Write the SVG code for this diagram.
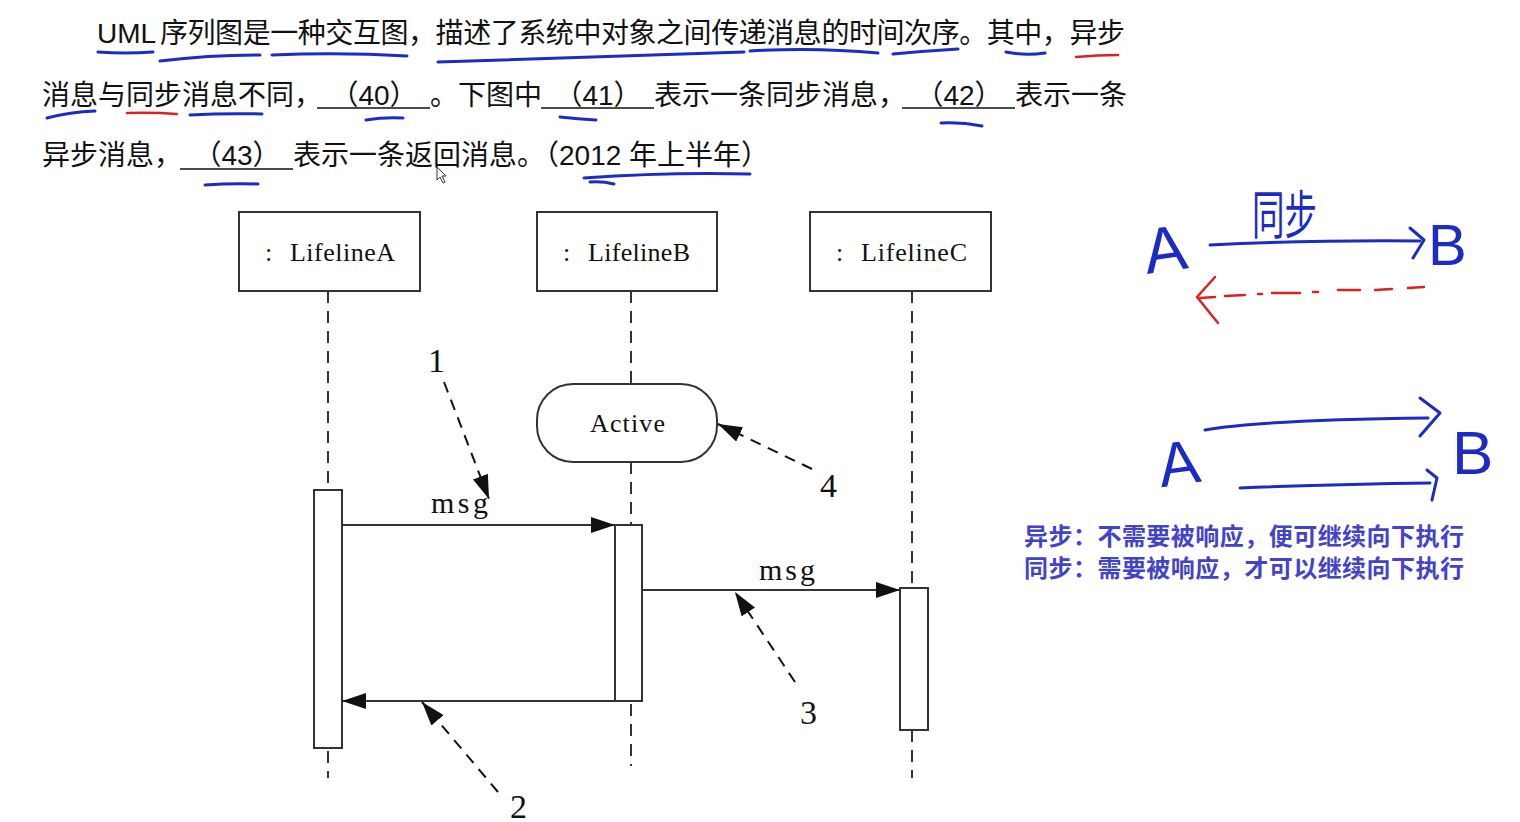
<svg xmlns="http://www.w3.org/2000/svg" width="1520" height="822" viewBox="0 0 1520 822">
<defs>
<style>
.q{font-family:"Liberation Sans","Noto Sans CJK SC",sans-serif;font-size:28px;fill:#111}
.blank{stroke:#111;stroke-width:1.6}
.ser{font-family:"Liberation Serif","DejaVu Serif",serif;fill:#111}
.box{fill:#fff;stroke:#333;stroke-width:2}
.life{stroke:#333;stroke-width:2;stroke-dasharray:12 8;fill:none}
.msg{stroke:#333;stroke-width:2;fill:none}
.note{stroke:#111;stroke-width:2;stroke-dasharray:11 8;fill:none}
.pen{stroke:#1c2bc4;stroke-width:3;fill:none;stroke-linecap:round;stroke-linejoin:round}
.red{stroke:#e02020;stroke-width:2.5;fill:none;stroke-linecap:round;stroke-linejoin:round}
.hand{font-family:"Liberation Sans","Noto Sans CJK SC",sans-serif;fill:#1c2bc4}
.blue{font-family:"Noto Sans CJK SC","Liberation Sans",sans-serif;font-size:24px;font-weight:bold;fill:#4343c8}
</style>
<marker id="ah" viewBox="0 0 24 16" refX="24" refY="8" markerWidth="24" markerHeight="16" markerUnits="userSpaceOnUse" orient="auto">
<path d="M0,0 L24,8 L0,16 z" fill="#111" stroke="none"/>
</marker>
</defs>

<g id="question">
<text class="q" y="43"><tspan x="97">UML </tspan><tspan x="160" textLength="965" lengthAdjust="spacing">序列图是一种交互图，描述了系统中对象之间传递消息的时间次序。其中，异步</tspan></text>
<text class="q" y="105"><tspan x="42">消息与同步消息不同，</tspan><tspan x="430">。下图中</tspan><tspan x="654">表示一条同步消息，</tspan><tspan x="1015">表示一条</tspan></text>
<text class="q" y="105" text-anchor="middle"><tspan x="374">（40）</tspan><tspan x="598">（41）</tspan><tspan x="959">（42）</tspan></text>
<line class="blank" x1="317" y1="108" x2="430" y2="108"/>
<line class="blank" x1="541" y1="108" x2="654" y2="108"/>
<line class="blank" x1="902" y1="108" x2="1015" y2="108"/>
<text class="q" y="165"><tspan x="42">异步消息，</tspan><tspan x="293">表示一条返回消息。（2012 年上半年）</tspan></text>
<text class="q" y="165" text-anchor="middle"><tspan x="237">（43）</tspan></text>
<line class="blank" x1="180" y1="169" x2="293" y2="169"/>
<path d="M437,167 L437,180 L440,177 L443,183 L445,182 L442,176 L446,176 z" fill="#fff" stroke="#333" stroke-width="1"/>
</g>

<g id="annotations-text">
<path class="pen" d="M98,52 Q125,54 153,52"/>
<path class="pen" d="M160,61 Q210,55 260,55"/>
<path class="pen" d="M272,55 Q340,52 407,56"/>
<path class="pen" d="M438,62 Q600,57 744,52"/>
<path class="pen" d="M750,51 Q815,47 878,53"/>
<path class="pen" d="M893,54 Q925,51 958,49"/>
<path class="pen" d="M1006,52 Q1025,56 1045,53"/>
<path class="red" d="M1076,57 Q1098,55 1118,55"/>
<path class="pen" d="M47,118 Q70,112 95,111"/>
<path class="red" d="M127,113 Q152,112 177,114"/>
<path class="pen" d="M190,115 Q225,113 262,114"/>
<path class="pen" d="M366,120 Q384,117 403,118"/>
<path class="pen" d="M560,117 Q578,119 596,120"/>
<path class="pen" d="M941,123 Q962,122 982,126"/>
<path class="pen" d="M205,185 Q232,183 258,184"/>
<path class="pen" d="M584,178 Q667,172 750,174"/>
<path class="pen" d="M590,182 Q602,181 614,184" stroke-width="2"/>
</g>

<g id="lifelineA">
<line class="life" x1="328" y1="291" x2="328" y2="778"/>
<rect class="box" x="239" y="212" width="181" height="79"/>
<text class="ser" x="265" y="261" font-size="26">:</text>
<text class="ser" x="290" y="261" font-size="26" textLength="105" lengthAdjust="spacing">LifelineA</text>
</g>
<g id="lifelineB">
<line class="life" x1="631" y1="291" x2="631" y2="385"/>
<line class="life" x1="631" y1="462" x2="631" y2="525"/>
<line class="life" x1="631" y1="704" x2="631" y2="766"/>
<rect class="box" x="537" y="212" width="180" height="79"/>
<text class="ser" x="563" y="261" font-size="26">:</text>
<text class="ser" x="588" y="261" font-size="26" textLength="102" lengthAdjust="spacing">LifelineB</text>
</g>
<g id="lifelineC">
<line class="life" x1="912" y1="291" x2="912" y2="588"/>
<line class="life" x1="912" y1="730" x2="912" y2="778"/>
<rect class="box" x="810" y="212" width="181" height="79"/>
<text class="ser" x="836" y="261" font-size="26">:</text>
<text class="ser" x="861" y="261" font-size="26" textLength="106" lengthAdjust="spacing">LifelineC</text>
</g>
<g id="active">
<rect class="box" x="537" y="384" width="180" height="78" rx="36" ry="36"/>
<text class="ser" x="590" y="432" font-size="26" textLength="75" lengthAdjust="spacing">Active</text>
</g>
<g id="activationA"><rect class="box" x="314" y="490" width="28" height="258"/></g>
<g id="activationB"><rect class="box" x="615" y="525" width="27" height="176"/></g>
<g id="activationC"><rect class="box" x="900" y="588" width="28" height="142"/></g>

<g id="connectors">
<line class="msg" x1="342" y1="525" x2="615" y2="525" marker-end="url(#ah)"/>
<line class="msg" x1="642" y1="590" x2="900" y2="590" marker-end="url(#ah)"/>
<line class="msg" x1="615" y1="701" x2="342" y2="701" marker-end="url(#ah)"/>
<line class="note" x1="444" y1="382" x2="489" y2="499" marker-end="url(#ah)"/>
<line class="note" x1="498" y1="792" x2="422" y2="702" marker-end="url(#ah)"/>
<line class="note" x1="795" y1="682" x2="735" y2="592" marker-end="url(#ah)"/>
<line class="note" x1="812" y1="469" x2="718" y2="424" marker-end="url(#ah)"/>
</g>
<g id="labels">
<text class="ser" x="431" y="513" font-size="30" textLength="57" lengthAdjust="spacing">msg</text>
<text class="ser" x="759" y="580" font-size="30" textLength="56" lengthAdjust="spacing">msg</text>
<text class="ser" x="428" y="372" font-size="34">1</text>
<text class="ser" x="510" y="818" font-size="34">2</text>
<text class="ser" x="800" y="724" font-size="34">3</text>
<text class="ser" x="820" y="497" font-size="34">4</text>
</g>

<g id="sketch-sync">
<text class="hand" x="1143" y="272" font-size="64" transform="rotate(-8 1160 245)">A</text>
<text class="hand" x="1428" y="265" font-size="58">B</text>
<text class="hand" x="1252" y="234" font-size="52" textLength="65" lengthAdjust="spacingAndGlyphs">同步</text>
<path class="pen" d="M1210,245 Q1310,240 1420,241"/>
<path class="pen" d="M1410,228 L1424,240 L1413,258"/>
<path class="red" d="M1200,298 L1215,297 M1225,296 L1245,295 M1258,294 L1262,294 M1272,293 L1300,293 M1313,292 L1318,292 M1338,290 L1360,290 M1375,290 L1392,289 M1408,288 L1424,287"/>
<path class="red" d="M1215,277 L1197,297 L1218,323"/>
</g>
<g id="sketch-async">
<text class="hand" x="1157" y="485" font-size="62" transform="rotate(-8 1175 455)">A</text>
<text class="hand" x="1452" y="474" font-size="62">B</text>
<path class="pen" d="M1205,430 Q1260,420 1428,418"/>
<path class="pen" d="M1420,398 L1440,413 L1420,436"/>
<path class="pen" d="M1240,488 Q1340,484 1430,483"/>
<path class="pen" d="M1427,470 L1437,478 L1432,500"/>
</g>
<g id="note">
<text class="blue" x="1024" y="545" textLength="440" lengthAdjust="spacing">异步：不需要被响应，便可继续向下执行</text>
<text class="blue" x="1024" y="577" textLength="440" lengthAdjust="spacing">同步：需要被响应，才可以继续向下执行</text>
</g>
</svg>
